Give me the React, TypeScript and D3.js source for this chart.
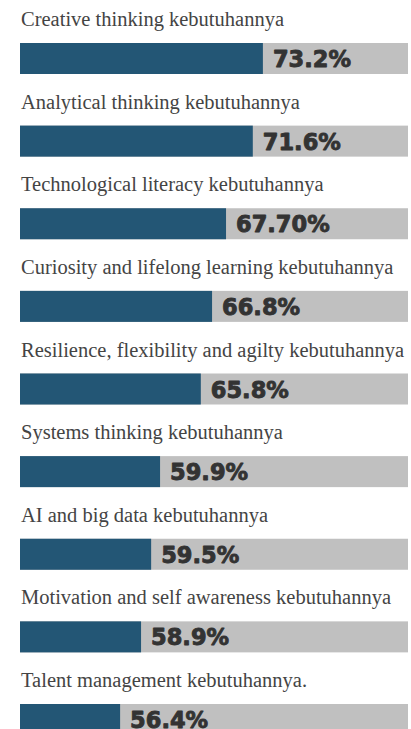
import React from "react";
import * as d3 from "d3";

const categories = [
  "Creative thinking kebutuhannya",
  "Analytical thinking kebutuhannya",
  "Technological literacy kebutuhannya",
  "Curiosity and lifelong learning kebutuhannya",
  "Resilience, flexibility and agilty kebutuhannya",
  "Systems thinking kebutuhannya",
  "AI and big data kebutuhannya",
  "Motivation and self awareness kebutuhannya",
  "Talent management kebutuhannya.",
];
const values = [73.2, 71.6, 67.7, 66.8, 65.8, 59.9, 59.5, 58.9, 56.4];
const valueLabels = ["73.2%", "71.6%", "67.70%", "66.8%", "65.8%", "59.9%", "59.5%", "58.9%", "56.4%"];
// drawn bar length, as a share (%) of the grey track
const fillShares = [62.6, 60.0, 53.1, 49.5, 46.6, 36.1, 33.8, 31.2, 25.8];

const W = 411;
const H = 729;

export default function App() {
  const x = d3.scaleLinear().domain([0, 100]).range([20, 408]);
  const y = d3.scalePoint<string>().domain(categories).range([43, 704]);
  const barH = 31;
  return (
    <svg width={W} height={H} style={{ position: "absolute", left: 0, top: 0, background: "#fff" }}>
      {categories.map((c, i) => {
        const top = y(c) as number;
        const fx = x(fillShares[i]);
        return (
          <g key={c} data-value={values[i]}>
            <text
              x={21}
              y={top - 17}
              fontFamily="'Liberation Serif', serif"
              fontSize={20.5}
              fill="#444"
            >
              {c}
            </text>
            <rect x={x(0)} y={top} width={x(100) - x(0)} height={barH} fill="#c0c0c0" />
            <rect x={x(0)} y={top} width={fx - x(0)} height={barH} fill="#235675" />
            <text
              x={fx + 10}
              y={top + 24}
              fontFamily="'DejaVu Sans', sans-serif"
              fontWeight={700}
              fontSize={22.5}
              fill="#333"
              stroke="#333"
              strokeWidth={0.9}
              strokeLinejoin="round"
            >
              {valueLabels[i]}
            </text>
          </g>
        );
      })}
    </svg>
  );
}
